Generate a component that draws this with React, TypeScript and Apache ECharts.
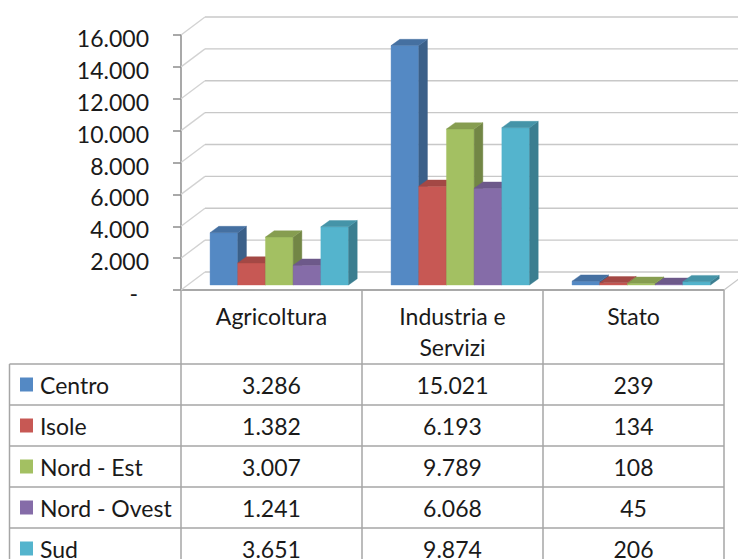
import React, { useEffect, useRef } from 'react';
import * as echarts from 'echarts';

// ---- data ----
const categories = ['Agricoltura', 'Industria e\nServizi', 'Stato'];
const regions = ['Centro', 'Isole', 'Nord - Est', 'Nord - Ovest', 'Sud'];
const centro = [3286, 15021, 239];
const isole = [1382, 6193, 134];
const nordEst = [3007, 9789, 108];
const nordOvest = [1241, 6068, 45];
const sud = [3651, 9874, 206];
const seriesValues = [centro, isole, nordEst, nordOvest, sud];
const yTicks = [0, 2000, 4000, 6000, 8000, 10000, 12000, 14000, 16000];

// ---- styles / layout ----
const COLORS = ['#5489c4', '#c75854', '#a3c062', '#856ca8', '#54b4cd'];
const FONT = 'Lato';
const FS = 23;
const W = 738;
const H = 559;
const GRID_L = 181;
const GRID_T = 35;
const GRID_RX = 724;
const GRID_BY = 290;
const DEPTH_DX = 24;
const DEPTH_DY = -18;
const BAR_DX = 7.8;
const BAR_DY = -5;
const BAR_DDX = 8.7;
const BAR_DDY = -6.3;
const BAR_W_FRAC = 0.153;
const TABLE_L = 9.5;
const HEADER_B = 364;
const ROW_H = 41;
const LINE_C = '#a6a6a6';
const AXIS_C = '#8c8c8c';
const TEXT_C = '#1a1a1a';

function fmt(v: number): string {
  return String(Math.round(v)).replace(/\B(?=(\d{3})+(?!\d))/g, '.');
}

function shade(hex: string, f: number): string {
  const n = parseInt(hex.slice(1), 16);
  const r = Math.round(((n >> 16) & 255) * f);
  const g = Math.round(((n >> 8) & 255) * f);
  const b = Math.round((n & 255) * f);
  return 'rgb(' + r + ',' + g + ',' + b + ')';
}

function buildOption() {
  const wallSeries: any = {
    type: 'custom',
    name: 'walls',
    silent: true,
    z: 1,
    data: yTicks.map((v) => [0, v]),
    encode: { x: 0, y: 1 },
    renderItem: (params: any, api: any) => {
      const cs = params.coordSys;
      const v = api.value(1);
      const y = api.coord([0, v])[1];
      const x0 = cs.x;
      const x1 = cs.x + cs.width;
      const children: any[] = [
        {
          type: 'line',
          shape: { x1: x0, y1: y, x2: x0 + DEPTH_DX, y2: y + DEPTH_DY },
          style: { stroke: '#d2d2d2', lineWidth: 1.3 },
        },
        {
          type: 'line',
          shape: { x1: x0 + DEPTH_DX, y1: y + DEPTH_DY, x2: x1 + DEPTH_DX, y2: y + DEPTH_DY },
          style: { stroke: '#c8c8c8', lineWidth: 1.3 },
        },
      ];
      if (v === 0) {
        children.push({
          type: 'line',
          shape: { x1: x1, y1: y, x2: x1 + DEPTH_DX, y2: y + DEPTH_DY },
          style: { stroke: '#c8c8c8', lineWidth: 1.3 },
        });
      }
      return { type: 'group', children };
    },
  };

  const barSeries = seriesValues.map((vals, k) => ({
    type: 'custom',
    name: regions[k],
    silent: true,
    z: 3,
    data: vals.map((v, i) => [i, v]),
    encode: { x: 0, y: 1 },
    renderItem: (params: any, api: any) => {
      const cat = api.value(0);
      const val = api.value(1);
      const base = api.coord([cat, 0]);
      const topY = api.coord([cat, val])[1] + BAR_DY;
      const catW = api.size([1, 0])[0];
      const bw = catW * BAR_W_FRAC;
      const x0 = base[0] - 2.5 * bw + k * bw + BAR_DX;
      const by = base[1] + BAR_DY;
      const c = COLORS[k];
      const side = shade(c, 0.7);
      const top = shade(c, 0.82);
      return {
        type: 'group',
        children: [
          {
            type: 'polygon',
            shape: { points: [[x0, topY], [x0 + bw, topY], [x0 + bw, by], [x0, by]] },
            style: { fill: c, stroke: c, lineWidth: 0.4 },
          },
          {
            type: 'polygon',
            shape: {
              points: [
                [x0 + bw, topY],
                [x0 + bw + BAR_DDX, topY + BAR_DDY],
                [x0 + bw + BAR_DDX, by + BAR_DDY],
                [x0 + bw, by],
              ],
            },
            style: { fill: side, stroke: side, lineWidth: 0.4 },
          },
          {
            type: 'polygon',
            shape: {
              points: [
                [x0, topY],
                [x0 + BAR_DDX, topY + BAR_DDY],
                [x0 + bw + BAR_DDX, topY + BAR_DDY],
                [x0 + bw, topY],
              ],
            },
            style: { fill: top, stroke: top, lineWidth: 0.4 },
          },
        ],
      };
    },
  }));

  // data table (legend keys + values)
  const colW = (GRID_RX - GRID_L) / categories.length;
  const graphics: any[] = [];
  for (let r = 0; r <= regions.length; r++) {
    const y = HEADER_B + r * ROW_H;
    if (y < H + 2) {
      graphics.push({
        type: 'line',
        silent: true,
        shape: { x1: TABLE_L, y1: y, x2: GRID_RX, y2: y },
        style: { stroke: LINE_C, lineWidth: 1.5 },
      });
    }
  }
  graphics.push({
    type: 'line',
    silent: true,
    shape: { x1: TABLE_L, y1: HEADER_B, x2: TABLE_L, y2: H + 5 },
    style: { stroke: LINE_C, lineWidth: 1.5 },
  });
  regions.forEach((name, r) => {
    const cy = HEADER_B + (r + 0.5) * ROW_H;
    graphics.push({
      type: 'rect',
      silent: true,
      shape: { x: 20, y: cy - 7, width: 13, height: 14 },
      style: { fill: COLORS[r] },
    });
    graphics.push({
      type: 'text',
      silent: true,
      style: {
        text: name,
        x: 40,
        y: cy,
        textAlign: 'left',
        textVerticalAlign: 'middle',
        fontSize: FS,
        fontFamily: FONT,
        fill: TEXT_C,
      },
    });
    seriesValues[r].forEach((v, c) => {
      graphics.push({
        type: 'text',
        silent: true,
        style: {
          text: fmt(v),
          x: GRID_L + (c + 0.5) * colW,
          y: cy,
          textAlign: 'center',
          textVerticalAlign: 'middle',
          fontSize: FS,
          fontFamily: FONT,
          fill: TEXT_C,
        },
      });
    });
  });

  return {
    animation: false,
    backgroundColor: '#ffffff',
    grid: { left: GRID_L, top: GRID_T, right: W - GRID_RX, bottom: H - GRID_BY, containLabel: false },
    xAxis: {
      type: 'category',
      data: categories,
      boundaryGap: true,
      axisLine: { show: true, lineStyle: { color: AXIS_C, width: 1.5 } },
      axisTick: { show: true, interval: 0, length: H - GRID_BY + 5, lineStyle: { color: LINE_C, width: 1.5 } },
      axisLabel: {
        interval: 0,
        margin: 10,
        lineHeight: 31,
        fontSize: FS,
        fontFamily: FONT,
        color: TEXT_C,
      },
      splitLine: { show: false },
    },
    yAxis: {
      type: 'value',
      min: 0,
      max: 16000,
      interval: 2000,
      axisLine: { show: true, lineStyle: { color: AXIS_C, width: 1.5 } },
      axisTick: { show: true, length: 8, lineStyle: { color: AXIS_C, width: 1.5 } },
      splitLine: { show: false },
      axisLabel: {
        margin: 32,
        fontSize: FS,
        fontFamily: FONT,
        color: TEXT_C,
        padding: [6, 0, 0, 0],
        formatter: (v: number) => (v === 0 ? '{d|-}' : fmt(v)),
        rich: { d: { fontSize: FS, fontFamily: FONT, color: TEXT_C, padding: [0, 11, 0, 0] } },
      },
    },
    series: [wallSeries, ...barSeries],
    graphic: graphics,
  };
}

export default function App() {
  const ref = useRef<HTMLDivElement>(null);
  useEffect(() => {
    if (!ref.current) return;
    const chart = echarts.init(ref.current, undefined, { renderer: 'svg' });
    chart.setOption(buildOption() as any);
    return () => chart.dispose();
  }, []);
  return (
    <div
      ref={ref}
      style={{ position: 'absolute', left: 0, top: 0, width: W, height: H, background: '#fff' }}
    />
  );
}
